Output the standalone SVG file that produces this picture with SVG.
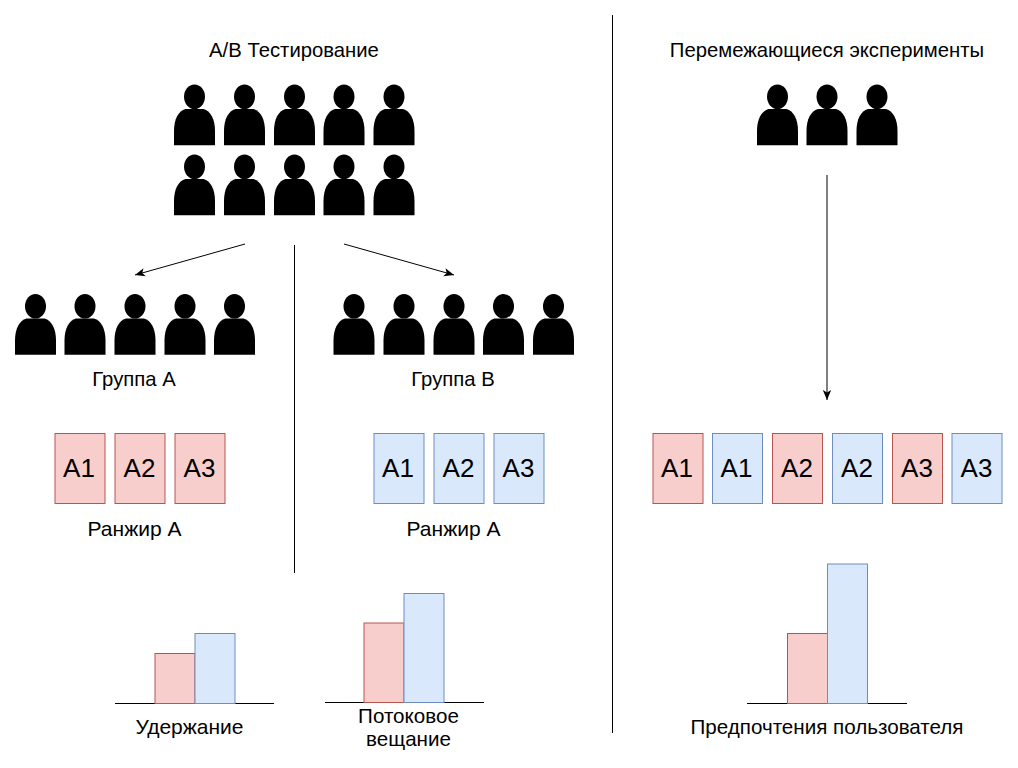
<svg xmlns="http://www.w3.org/2000/svg" xmlns:xlink="http://www.w3.org/1999/xlink" width="1018" height="768" viewBox="0 0 1018 768">
<style>
text{font-family:"Liberation Sans",Arial,sans-serif;fill:#000;text-anchor:middle}
.l{font-size:20.300px}
.m{font-size:20.600px}
.w{font-size:21px}
.c{font-size:26px}
.r{stroke:#b85450;fill:#f8cecc;stroke-width:1}
.b{stroke:#6c8ebf;fill:#dae8fc;stroke-width:1}
.ln{stroke:#000;stroke-width:1;fill:none}
.ar{stroke:#000;stroke-width:1;fill:none;marker-end:url(#ah)}
</style>
<defs>
<marker id="ah" markerUnits="userSpaceOnUse" markerWidth="12" markerHeight="10" refX="10" refY="5" orient="auto"><path d="M0 0.8L10 5L0 9.2L2.5 5Z" fill="#000"/></marker>
<symbol id="p" overflow="visible"><ellipse cx="0" cy="12.700" rx="10.500" ry="12.300"/><path d="M-20.500 61.200V47C-20.500 35 -16 27 -9 25H9C16 27 20.500 35 20.500 47V61.200Z"/></symbol>
</defs>
<rect width="1018" height="768" fill="#fff"/>
<g id="connectors">
<path class="ln" d="M612.500 15V733"/>
<path class="ln" d="M294.500 245V573"/>
<path class="ar" d="M245 244L135 275"/>
<path class="ar" d="M344 244L454 275"/>
<path class="ar" d="M827 175V400"/>
</g>
<g id="title-ab"><text class="l" x="294" y="57">A/B Тестирование</text></g>
<g id="title-interleaved"><text class="l" x="827" y="57">Перемежающиеся эксперименты</text></g>
<g id="users-all">
<use href="#p" x="194.500" y="84"/><use href="#p" x="244.500" y="84"/><use href="#p" x="294.500" y="84"/><use href="#p" x="344" y="84"/><use href="#p" x="394" y="84"/>
<use href="#p" x="194.500" y="154"/><use href="#p" x="244.500" y="154"/><use href="#p" x="294.500" y="154"/><use href="#p" x="344" y="154"/><use href="#p" x="394" y="154"/>
</g>
<g id="users-interleaved">
<use href="#p" x="777.500" y="84"/><use href="#p" x="827" y="84"/><use href="#p" x="877" y="84"/>
</g>
<g id="users-a">
<use href="#p" x="35.500" y="293.500"/><use href="#p" x="85" y="293.500"/><use href="#p" x="135" y="293.500"/><use href="#p" x="185" y="293.500"/><use href="#p" x="234.500" y="293.500"/>
<text class="l" x="134" y="386">Группа А</text>
</g>
<g id="users-b">
<use href="#p" x="354" y="293.500"/><use href="#p" x="404" y="293.500"/><use href="#p" x="454" y="293.500"/><use href="#p" x="503.500" y="293.500"/><use href="#p" x="553.500" y="293.500"/>
<text class="l" x="453" y="386">Группа В</text>
</g>
<g id="ranker-a">
<rect class="r" x="55" y="433.500" width="50" height="70"/><text class="c" x="79" y="477">A1</text>
<rect class="r" x="115" y="433.500" width="50" height="70"/><text class="c" x="139.500" y="477">A2</text>
<rect class="r" x="175" y="433.500" width="50" height="70"/><text class="c" x="199.500" y="477">A3</text>
<text class="w" x="134.500" y="536">Ранжир А</text>
</g>
<g id="ranker-b">
<rect class="b" x="374" y="433.500" width="50" height="70"/><text class="c" x="398" y="477">A1</text>
<rect class="b" x="434" y="433.500" width="50" height="70"/><text class="c" x="458.500" y="477">A2</text>
<rect class="b" x="494" y="433.500" width="50" height="70"/><text class="c" x="518.500" y="477">A3</text>
<text class="w" x="453.500" y="536">Ранжир А</text>
</g>
<g id="ranker-interleaved">
<rect class="r" x="653" y="433.500" width="50" height="70"/><text class="c" x="677" y="477">A1</text>
<rect class="b" x="712.500" y="433.500" width="50" height="70"/><text class="c" x="736.500" y="477">A1</text>
<rect class="r" x="772.500" y="433.500" width="50" height="70"/><text class="c" x="797" y="477">A2</text>
<rect class="b" x="832.500" y="433.500" width="50" height="70"/><text class="c" x="857" y="477">A2</text>
<rect class="r" x="892.500" y="433.500" width="50" height="70"/><text class="c" x="917" y="477">A3</text>
<rect class="b" x="952" y="433.500" width="50" height="70"/><text class="c" x="976.500" y="477">A3</text>
</g>
<g id="chart-retention">
<path class="ln" d="M115 703.500H274"/>
<rect class="r" x="155" y="653.500" width="40" height="50"/>
<rect class="b" x="195" y="633.500" width="40" height="70"/>
<text class="w" x="189.500" y="734">Удержание</text>
</g>
<g id="chart-streaming">
<path class="ln" d="M325 702.500H484"/>
<rect class="r" x="364" y="623" width="40" height="79.500"/>
<rect class="b" x="404" y="593.500" width="40" height="109"/>
<text class="m" x="408.500" y="722.500">Потоковое</text>
<text class="m" x="408.500" y="746">вещание</text>
</g>
<g id="chart-preference">
<path class="ln" d="M747 703.500H907"/>
<rect class="r" x="787.500" y="633.500" width="40" height="70"/>
<rect class="b" x="827.500" y="564" width="40" height="139.500"/>
<text class="m" x="827" y="734">Предпочтения пользователя</text>
</g>
</svg>
